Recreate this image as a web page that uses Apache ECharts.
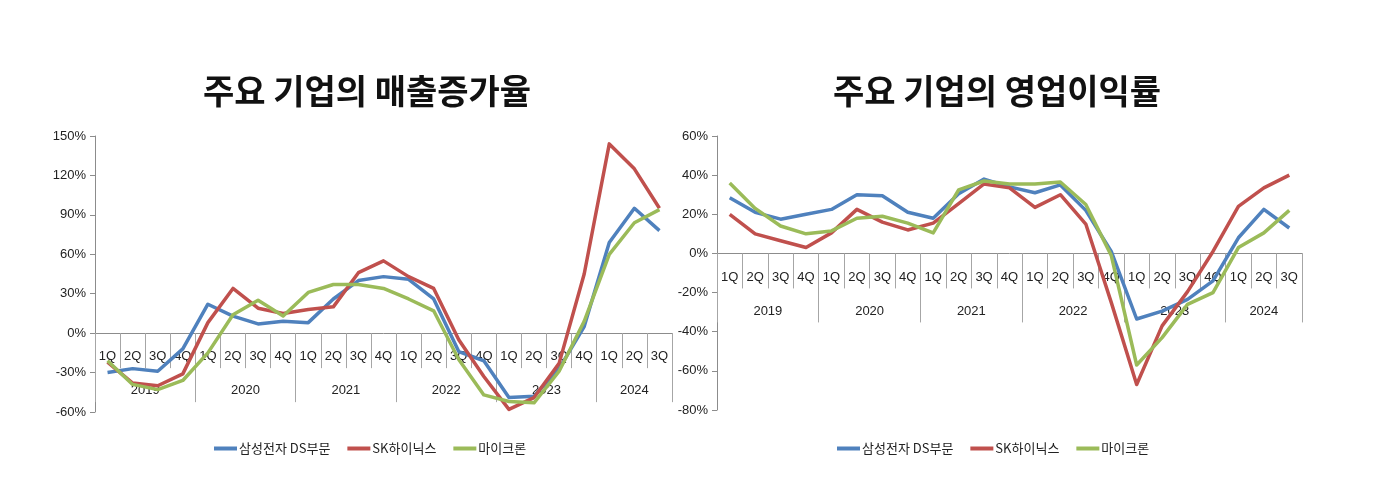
<!DOCTYPE html>
<html>
<head>
<meta charset="utf-8">
<script src="https://cdn.jsdelivr.net/npm/echarts@6/dist/echarts.min.js"></script>
<style>
html,body{margin:0;padding:0;background:#fff;}
#chart{width:1381px;height:504px;}
</style>
</head>
<body>
<div id="chart"></div>
<script>
// ---------- data ----------
const years = ['2019', '2020', '2021', '2022', '2023', '2024'];
const quartersPerYear = [4, 4, 4, 4, 4, 3];
const quarterNames = ['1Q', '2Q', '3Q', '4Q'];

const seriesNames = ['삼성전자 DS부문', 'SK하이닉스', '마이크론'];
const seriesColors = ['#4F81BD', '#C0504D', '#9BBB59'];

// 매출증가율 (%)
const salesSamsung = [-30, -27, -29, -12, 22, 13, 7, 9, 8, 26, 40, 43, 41, 26, -14, -21, -49, -48, -27, 5, 69, 95, 78];
const salesHynix   = [-22, -38, -40, -31, 8, 34, 19, 15, 18, 20, 46, 55, 43, 34, -5, -33, -58, -49, -23, 45, 144, 125, 95];
const salesMicron  = [-21, -39, -43, -36, -15, 14, 25, 13, 31, 37, 37, 34, 26, 17, -20, -47, -52, -53, -29, 9, 60, 84, 94];

// 영업이익률 (%)
const opSamsung = [28.5, 21, 17.5, 20, 22.5, 30, 29.5, 21, 18, 30.5, 38, 34, 31, 35, 22, 1, -33.5, -29.5, -23.5, -14, 8, 22.5, 13];
const opHynix   = [20, 10, 6.5, 3, 10.5, 22.5, 16, 12, 15.5, 25.5, 35.5, 33.5, 23.5, 30, 15, -25, -67, -37, -19.5, 1, 24, 33.5, 40];
const opMicron  = [36, 23, 14, 10, 11.5, 18, 19, 15.5, 10.5, 32.5, 37, 35.5, 35.5, 36.5, 25, -1, -57, -43, -26, -20, 3, 10.5, 22];

const titles = ['주요 기업의 매출증가율', '주요 기업의 영업이익률'];
const yRanges = [[-60, 150, 30], [-80, 60, 20]];

// ---------- derived axis data ----------
const categories = [];
years.forEach((y, yi) => {
  for (let q = 0; q < quartersPerYear[yi]; q++) categories.push(y + '-' + quarterNames[q]);
});
const nCat = categories.length;
// year axis on half-quarter slots
const yearSlots = [];
for (let i = 0; i <= nCat * 2; i++) yearSlots.push(String(i));
const yearCenter = {};
const yearBoundary = new Set();
let start = 0;
years.forEach((y, yi) => {
  yearBoundary.add(start * 2);
  yearCenter[start * 2 + quartersPerYear[yi]] = y;
  start += quartersPerYear[yi];
});
yearBoundary.add(start * 2);

const FONT = "'Liberation Sans Narrow', 'Liberation Sans', 'Noto Sans CJK KR', sans-serif";
const KFONT = "'Noto Sans CJK KR', 'Liberation Sans', sans-serif";
const axisGray = '#8c8c8c';
const sepGray = '#a6a6a6';

const grids = [
  {left: 95, top: 136, width: 577, height: 276, outerBoundsMode: 'none'},
  {left: 717, top: 136, width: 585, height: 274, outerBoundsMode: 'none'}
];

const xAxes = [];
const yAxes = [];
grids.forEach((g, gi) => {
  const r = yRanges[gi];
  // move the category axes up to the 0 line
  const zeroOffset = -g.height * (0 - r[0]) / (r[1] - r[0]);
  xAxes.push({
    type: 'category', gridIndex: gi, position: 'bottom', offset: zeroOffset, data: categories,
    boundaryGap: true,
    axisLine: {show: true, onZero: false, lineStyle: {color: axisGray, width: 1}},
    axisTick: {show: true, interval: 0, length: 35, lineStyle: {color: sepGray}},
    axisLabel: {interval: 0, margin: 17, fontSize: 13, color: '#222', fontFamily: FONT,
      formatter: v => v.split('-')[1]},
    splitLine: {show: false}
  });
  xAxes.push({
    type: 'category', gridIndex: gi, position: 'bottom', offset: zeroOffset, data: yearSlots,
    boundaryGap: false,
    axisLine: {show: false, onZero: false},
    axisTick: {show: true, length: 69, lineStyle: {color: sepGray},
      interval: (idx) => yearBoundary.has(idx)},
    axisLabel: {margin: 51, fontSize: 13, color: '#222', fontFamily: FONT,
      interval: (idx) => yearCenter[idx] !== undefined,
      formatter: (v, idx) => yearCenter[idx] || ''},
    splitLine: {show: false}
  });
  yAxes.push({
    type: 'value', gridIndex: gi, min: r[0], max: r[1], interval: r[2],
    axisLine: {show: true, onZero: false, lineStyle: {color: axisGray, width: 1}},
    axisTick: {show: true, length: 5, lineStyle: {color: axisGray}},
    axisLabel: {formatter: '{value}%', margin: 9, fontSize: 13, color: '#222', fontFamily: FONT},
    splitLine: {show: false}
  });
});

const dataSets = [[salesSamsung, salesHynix, salesMicron], [opSamsung, opHynix, opMicron]];
const series = [];
dataSets.forEach((set, gi) => {
  set.forEach((arr, si) => {
    series.push({
      type: 'line', name: seriesNames[si], xAxisIndex: gi * 2, yAxisIndex: gi,
      data: arr, symbol: 'none', smooth: false,
      lineStyle: {color: seriesColors[si], width: 3.5, join: 'round'},
      itemStyle: {color: seriesColors[si]},
      emphasis: {disabled: true}
    });
  });
});

const legendBase = {
  data: seriesNames, icon: 'rect', itemWidth: 23, itemHeight: 4, itemGap: 17,
  textStyle: {fontSize: 13, color: '#222', fontFamily: KFONT, padding: [0, 0, 0, -3]},
  selectedMode: false
};

const option = {
  animation: false,
  backgroundColor: '#ffffff',
  title: [
    {text: titles[0], left: 362, top: 69, textAlign: 'center',
     textStyle: {fontSize: 34, fontWeight: 'bold', color: '#111', fontFamily: KFONT}},
    {text: titles[1], left: 992, top: 69, textAlign: 'center',
     textStyle: {fontSize: 34, fontWeight: 'bold', color: '#111', fontFamily: KFONT}}
  ],
  legend: [
    Object.assign({}, legendBase, {left: 209, top: 437}),
    Object.assign({}, legendBase, {left: 832, top: 437})
  ],
  grid: grids,
  xAxis: xAxes,
  yAxis: yAxes,
  series: series
};

const chart = echarts.init(document.getElementById('chart'), null, {renderer: 'canvas'});
chart.setOption(option);
</script>
</body>
</html>
